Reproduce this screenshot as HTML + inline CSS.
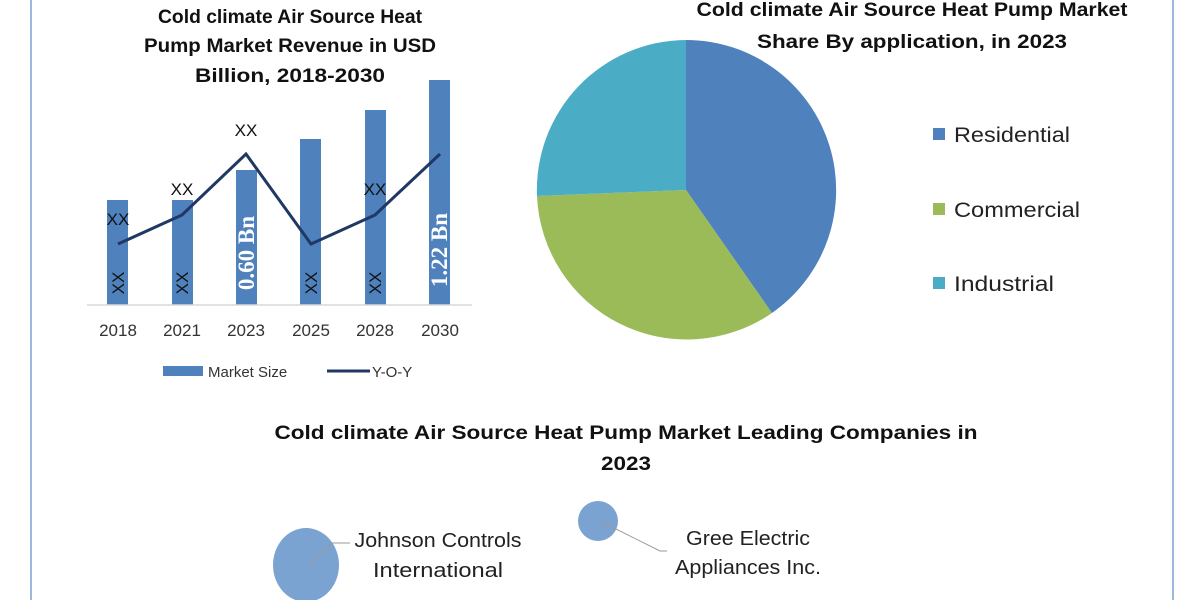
<!DOCTYPE html>
<html><head><meta charset="utf-8"><style>
body{margin:0;width:1200px;height:600px;background:#fff;overflow:hidden;font-family:"Liberation Sans",sans-serif}
</style></head><body>
<svg width="1200" height="600" xmlns="http://www.w3.org/2000/svg" font-family="Liberation Sans, sans-serif">
<line x1="31" y1="0" x2="31" y2="600" stroke="#7f9fd0" stroke-width="1.5"/>
<line x1="1173" y1="0" x2="1173" y2="600" stroke="#7f9fd0" stroke-width="1.5"/>
<g font-weight="bold" font-size="19" text-anchor="middle" fill="#111">
<text x="290" y="23" textLength="264" lengthAdjust="spacingAndGlyphs">Cold climate Air Source Heat</text>
<text x="290" y="52" textLength="292" lengthAdjust="spacingAndGlyphs">Pump Market Revenue in USD</text>
<text x="290" y="82" textLength="190" lengthAdjust="spacingAndGlyphs">Billion, 2018-2030</text>
<text x="912" y="16" textLength="431" lengthAdjust="spacingAndGlyphs">Cold climate Air Source Heat Pump Market</text>
<text x="912" y="48" textLength="310" lengthAdjust="spacingAndGlyphs">Share By application, in 2023</text>
<text x="626" y="439" textLength="703" lengthAdjust="spacingAndGlyphs">Cold climate Air Source Heat Pump Market Leading Companies in</text>
<text x="626" y="470" textLength="50" lengthAdjust="spacingAndGlyphs">2023</text>
</g>
<g fill="#4f81bd">
<rect x="107" y="200" width="21" height="105"/>
<rect x="172" y="200" width="21" height="105"/>
<rect x="236" y="170" width="21" height="135"/>
<rect x="300" y="139" width="21" height="166"/>
<rect x="365" y="110" width="21" height="195"/>
<rect x="429" y="80" width="21" height="225"/>
</g>
<line x1="87" y1="305" x2="472" y2="305" stroke="#d9d9d9" stroke-width="1.5"/>
<polyline points="118,244 182,215 246,154 311,244 375,215 440,154" fill="none" stroke="#1f3864" stroke-width="3"/>
<g font-size="17" fill="#111" text-anchor="middle">
<text x="118" y="225">XX</text><text x="182" y="195">XX</text><text x="246" y="136">XX</text><text x="375" y="195">XX</text>
<text transform="translate(124,283) rotate(-90)">XX</text>
<text transform="translate(188,283) rotate(-90)">XX</text>
<text transform="translate(317,283) rotate(-90)">XX</text>
<text transform="translate(381,283) rotate(-90)">XX</text>
</g>
<g font-family="Liberation Serif, serif" font-size="23" font-weight="bold" fill="#fff" text-anchor="middle">
<text transform="translate(254,253) rotate(-90)">0.60 Bn</text>
<text transform="translate(447,250) rotate(-90)">1.22 Bn</text>
</g>
<g font-size="17" fill="#333" text-anchor="middle">
<text x="118" y="336">2018</text><text x="182" y="336">2021</text><text x="246" y="336">2023</text>
<text x="311" y="336">2025</text><text x="375" y="336">2028</text><text x="440" y="336">2030</text>
</g>
<rect x="163" y="366" width="40" height="10" fill="#4f81bd"/>
<text x="208" y="377" font-size="15" fill="#333">Market Size</text>
<line x1="327" y1="371" x2="370" y2="371" stroke="#1f3864" stroke-width="3"/>
<text x="372" y="377" font-size="15" fill="#333">Y-O-Y</text>
<path d="M686,190 L686,40 A150,150 0 0 1 772,313 Z" fill="#4f81bd"/>
<path d="M686,190 L772,313 A150,150 0 0 1 537,196 Z" fill="#9bbb59"/>
<path d="M686,190 L537,196 A150,150 0 0 1 686,40 Z" fill="#4bacc6"/>
<rect x="933" y="128" width="12" height="12" fill="#4f81bd"/>
<text x="954" y="142" font-size="21" fill="#222" textLength="116" lengthAdjust="spacingAndGlyphs">Residential</text>
<rect x="933" y="203" width="12" height="12" fill="#9bbb59"/>
<text x="954" y="217" font-size="21" fill="#222" textLength="126" lengthAdjust="spacingAndGlyphs">Commercial</text>
<rect x="933" y="277" width="12" height="12" fill="#4bacc6"/>
<text x="954" y="291" font-size="21" fill="#222" textLength="100" lengthAdjust="spacingAndGlyphs">Industrial</text>
<ellipse cx="306" cy="565" rx="33" ry="37" fill="#7ba3d1"/>
<ellipse cx="598" cy="521" rx="20" ry="20" fill="#7ba3d1"/>
<polyline points="308,565 332,543 350,543" fill="none" stroke="#999" stroke-width="1"/>
<polyline points="600,521 660,551 667,551" fill="none" stroke="#999" stroke-width="1"/>
<g font-size="20" fill="#222" text-anchor="middle">
<text x="438" y="547" textLength="167" lengthAdjust="spacingAndGlyphs">Johnson Controls</text>
<text x="438" y="577" textLength="130" lengthAdjust="spacingAndGlyphs">International</text>
<text x="748" y="545" textLength="124" lengthAdjust="spacingAndGlyphs">Gree Electric</text>
<text x="748" y="574" textLength="146" lengthAdjust="spacingAndGlyphs">Appliances Inc.</text>
</g>
</svg>
</body></html>
